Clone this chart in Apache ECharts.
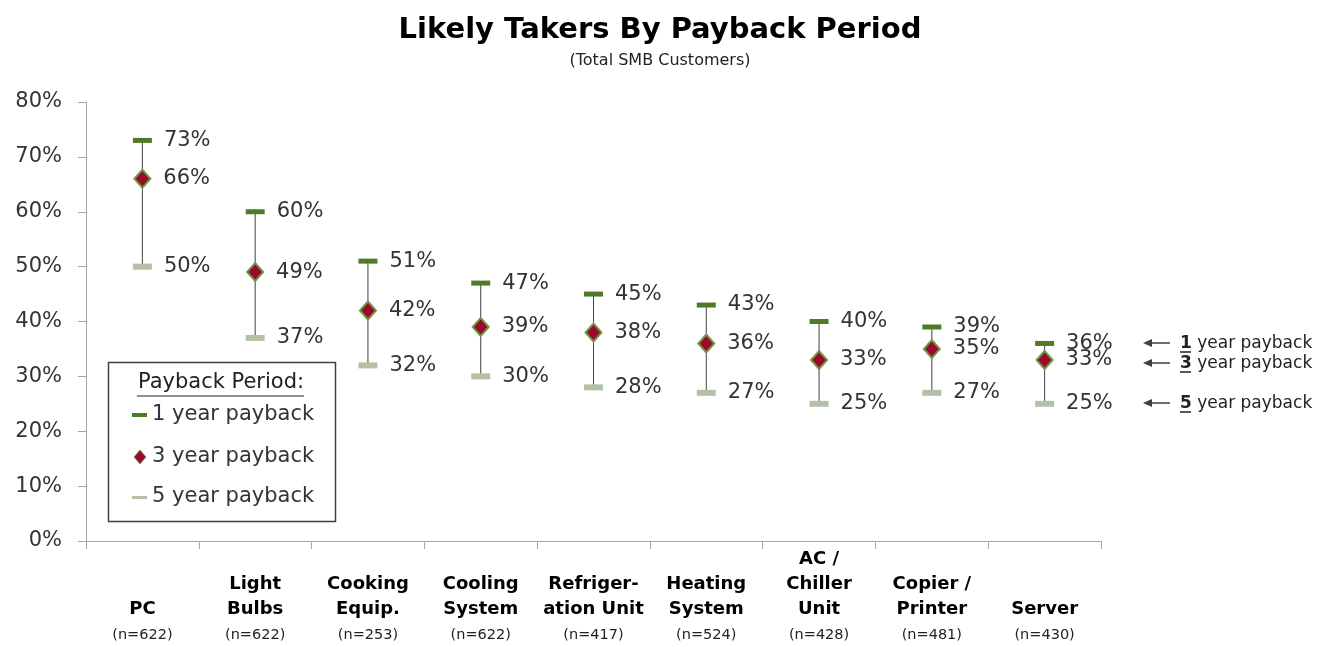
<!DOCTYPE html>
<html><head><meta charset="utf-8">
<script src="https://cdn.jsdelivr.net/npm/echarts@6/dist/echarts.min.js"></script>
<style>html,body{margin:0;padding:0;background:#fff}#c{width:1320px;height:647px}</style>
</head><body><div id="c"></div>
<script>
const categories = ["PC", "Light\nBulbs", "Cooking\nEquip.", "Cooling\nSystem", "Refriger-\nation Unit", "Heating\nSystem", "AC /\nChiller\nUnit", "Copier /\nPrinter", "Server"];
const sampleSizes = ["622", "622", "253", "622", "417", "524", "428", "481", "430"];
const oneYear = [73, 60, 51, 47, 45, 43, 40, 39, 36];
const threeYear = [66, 49, 42, 39, 38, 36, 33, 35, 33];
const fiveYear = [50, 37, 32, 30, 28, 27, 25, 27, 25];
const yTicks = [0, 10, 20, 30, 40, 50, 60, 70, 80];

const FONT = "DejaVu Sans";
const chart = echarts.init(document.getElementById('c'));
const labelStyle = {show: true, position: 'right', distance: 12, formatter: p => p.value[1] + '%', fontFamily: FONT, fontSize: 21, color: '#333'};

const rangeData = categories.map((c, i) => [i, oneYear[i], fiveYear[i]]);
const annot = (y, digit) => ([
  {type: 'line', shape: {x1: 1146, y1: y, x2: 1170, y2: y}, style: {stroke: '#404040', lineWidth: 1.5}},
  {type: 'polygon', shape: {points: [[1143, y], [1152, y - 4], [1152, y + 4]]}, style: {fill: '#404040'}},
  {type: 'text', x: 1180, y: y + 1, style: {text: '{u|' + digit + '} year payback', fontFamily: FONT, fontSize: 17, fill: '#222', verticalAlign: 'middle', rich: {u: {fontFamily: FONT, fontSize: 17, fontWeight: 'bold', fill: '#222'}}}},
  {type: 'line', shape: {x1: 1180, y1: y + 9, x2: 1191, y2: y + 9}, style: {stroke: '#222', lineWidth: 1.5}}
]);

chart.setOption({
  animation: false,
  title: {
    text: 'Likely Takers By Payback Period',
    subtext: '(Total SMB Customers)',
    left: 'center', top: 11, itemGap: 8,
    textStyle: {fontFamily: FONT, fontWeight: 'bold', fontSize: 29, color: '#000'},
    subtextStyle: {fontFamily: FONT, fontSize: 16, color: '#222'}
  },
  grid: {left: 86, right: 219, top: 102, bottom: 106, containLabel: false},
  xAxis: {
    type: 'category', data: categories, boundaryGap: true,
    axisLine: {lineStyle: {color: '#a6a6a6', width: 1}},
    axisTick: {show: true, length: 8, lineStyle: {color: '#a6a6a6'}},
    axisLabel: {
      interval: 0, margin: 108, verticalAlign: 'bottom',
      formatter: (v, i) => v.split('\n').map(s => '{b|' + s + '}').join('\n') + '\n{n|(n=' + sampleSizes[i] + ')}',
      rich: {
        b: {fontFamily: FONT, fontWeight: 'bold', fontSize: 18, color: '#000', lineHeight: 25, align: 'center'},
        n: {fontFamily: FONT, fontSize: 14.5, color: '#222', lineHeight: 27, align: 'center'}
      }
    }
  },
  yAxis: {
    type: 'value', min: 0, max: 80, interval: 10,
    splitLine: {show: false},
    axisLine: {show: true, lineStyle: {color: '#a6a6a6'}},
    axisTick: {show: true, length: 8, inside: false, lineStyle: {color: '#a6a6a6'}},
    axisLabel: {margin: 24, formatter: v => v + '%', fontFamily: FONT, fontSize: 21, color: '#333'}
  },
  series: [
    {
      type: 'custom', name: 'range', z: 1,
      renderItem: (params, api) => {
        const top = api.coord([api.value(0), api.value(1)]);
        const bot = api.coord([api.value(0), api.value(2)]);
        return {type: 'line', shape: {x1: top[0], y1: top[1], x2: bot[0], y2: bot[1]}, style: {stroke: '#404040', lineWidth: 1}};
      },
      encode: {x: 0, y: [1, 2]},
      data: rangeData
    },
    {
      type: 'scatter', name: '5 year payback', z: 3, symbol: 'rect', symbolSize: [19, 6],
      itemStyle: {color: '#b3c2a6', opacity: 1}, label: labelStyle,
      data: fiveYear.map((v, i) => [i, v])
    },
    {
      type: 'scatter', name: '1 year payback', z: 3, symbol: 'rect', symbolSize: [19, 5],
      itemStyle: {color: '#4f7a28', opacity: 1}, label: labelStyle,
      data: oneYear.map((v, i) => [i, v])
    },
    {
      type: 'scatter', name: '3 year payback', z: 4, symbol: 'diamond', symbolSize: [16, 18],
      itemStyle: {color: '#990a2e', borderColor: '#6e9a45', borderWidth: 2, opacity: 1}, label: labelStyle,
      data: threeYear.map((v, i) => [i, v])
    }
  ],
  graphic: [
    {type: 'rect', shape: {x: 108.5, y: 362.5, width: 227, height: 159}, style: {fill: '#fff', stroke: '#404040', lineWidth: 1.5}, z: 10},
    {type: 'text', x: 221, y: 372, style: {text: 'Payback Period:', fontFamily: FONT, fontSize: 21, fill: '#222', align: 'center'}, z: 11},
    {type: 'line', shape: {x1: 137, y1: 396, x2: 304, y2: 396}, style: {stroke: '#222', lineWidth: 1}, z: 11},
    {type: 'rect', shape: {x: 132, y: 413, width: 15, height: 4}, style: {fill: '#4f7a28'}, z: 11},
    {type: 'text', x: 152, y: 415, style: {text: '1 year payback', fontFamily: FONT, fontSize: 21, fill: '#333', verticalAlign: 'middle'}, z: 11},
    {type: 'polygon', shape: {points: [[140, 450], [146, 457], [140, 464], [134, 457]]}, style: {fill: '#990a2e', stroke: '#6e9a45', lineWidth: 0.8}, z: 11},
    {type: 'text', x: 152, y: 457, style: {text: '3 year payback', fontFamily: FONT, fontSize: 21, fill: '#333', verticalAlign: 'middle'}, z: 11},
    {type: 'rect', shape: {x: 132, y: 496, width: 15, height: 3}, style: {fill: '#b3c2a6'}, z: 11},
    {type: 'text', x: 152, y: 497, style: {text: '5 year payback', fontFamily: FONT, fontSize: 21, fill: '#333', verticalAlign: 'middle'}, z: 11}
  ].concat(annot(343, '1'), annot(363, '3'), annot(403, '5'))
});
</script></body></html>
